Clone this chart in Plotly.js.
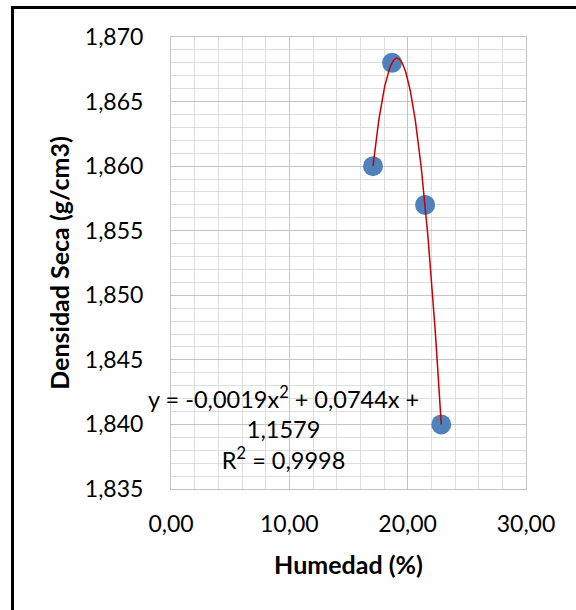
<!DOCTYPE html>
<html>
<head>
<meta charset="utf-8">
<script src="https://cdn.plot.ly/plotly-3.0.1.min.js"></script>
<style>
  html, body { margin: 0; padding: 0; background: #fff; }
  #frame { position: absolute; left: 11px; top: 6px; width: 620px; height: 660px; border: 3px solid #000; box-sizing: border-box; }
  #chart { position: absolute; left: 0; top: 0; width: 576px; height: 610px; }
</style>
</head>
<body>
<div id="frame"></div>
<div id="chart"></div>
<script>
// Data
const humedad = [17.07, 18.68, 21.47, 22.84];
const densidad = [1.860, 1.868, 1.857, 1.840];
const xTickVals = [0, 10, 20, 30];
const yTickVals = [1.835, 1.840, 1.845, 1.850, 1.855, 1.860, 1.865, 1.870];
const eqLabel = "y = -0,0019x<sup>2</sup> + 0,0744x +<br>1,1579<br>R<sup>2</sup> = 0,9998";

// Least-squares quadratic trendline from the data
function quadFit(xs, ys) {
  let S = [0,0,0,0,0], T = [0,0,0];
  for (let i = 0; i < xs.length; i++) {
    let p = 1;
    for (let k = 0; k < 5; k++) { S[k] += p; if (k < 3) T[k] += p * ys[i]; p *= xs[i]; }
  }
  const A = [[S[0],S[1],S[2],T[0]],[S[1],S[2],S[3],T[1]],[S[2],S[3],S[4],T[2]]];
  for (let c = 0; c < 3; c++) {
    for (let r = c + 1; r < 3; r++) {
      const f = A[r][c] / A[c][c];
      for (let k = c; k < 4; k++) A[r][k] -= f * A[c][k];
    }
  }
  const sol = [0,0,0];
  for (let r = 2; r >= 0; r--) {
    let s = A[r][3];
    for (let k = r + 1; k < 3; k++) s -= A[r][k] * sol[k];
    sol[r] = s / A[r][r];
  }
  return sol; // c0, c1, c2
}
const coef = quadFit(humedad, densidad);
const xmin = Math.min(...humedad), xmax = Math.max(...humedad);
const tx = [], ty = [];
for (let i = 0; i <= 120; i++) {
  const x = xmin + (xmax - xmin) * i / 120;
  tx.push(x); ty.push(coef[0] + coef[1] * x + coef[2] * x * x);
}

const font = "Lato, 'Open Sans', sans-serif";
const traces = [
  { x: humedad, y: densidad, type: 'scatter', mode: 'markers',
    marker: { color: '#4F81BD', size: 20 }, hoverinfo: 'x+y' },
  { x: tx, y: ty, type: 'scatter', mode: 'lines',
    line: { color: '#C80000', width: 1.5 }, hoverinfo: 'skip' }
];

const layout = {
  width: 576, height: 610,
  paper_bgcolor: 'rgba(0,0,0,0)', plot_bgcolor: '#fff',
  margin: { l: 171, r: 50, t: 37, b: 121 },
  showlegend: false,
  separators: ',.',
  font: { family: font, color: '#000', size: 23 },
  xaxis: {
    range: [0, 30], tickvals: xTickVals, tickformat: '.2f',
    showgrid: true, gridcolor: '#c4c4c4', gridwidth: 1,
    minor: { dtick: 2, showgrid: true, gridcolor: '#dedede', gridwidth: 1 },
    showline: true, linecolor: '#c4c4c4', linewidth: 1, mirror: true,
    zeroline: false, ticks: '', ticklabelstandoff: 14,
    tickfont: { family: font, size: 23, color: '#000' },
    title: { text: 'Humedad (%)', font: { family: font, size: 25, color: '#000', weight: 'bold' }, standoff: 20 }
  },
  yaxis: {
    range: [1.835, 1.870], tickvals: yTickVals, tickformat: '.3f',
    showgrid: true, gridcolor: '#c4c4c4', gridwidth: 1,
    minor: { dtick: 0.001, showgrid: true, gridcolor: '#dedede', gridwidth: 1 },
    showline: true, linecolor: '#c4c4c4', linewidth: 1, mirror: true,
    zeroline: false, ticks: '', ticklabelstandoff: 22,
    tickfont: { family: font, size: 23, color: '#000' },
    title: { text: 'Densidad Seca (g/cm3)', font: { family: font, size: 25, color: '#000', weight: 'bold' }, standoff: 8 }
  },
  annotations: [{
    text: eqLabel, xref: 'paper', yref: 'paper',
    x: (283 - 171) / 355, y: 1 - (428 - 37) / 452, xanchor: 'center', yanchor: 'middle',
    showarrow: false, align: 'center',
    font: { family: font, size: 23.5, color: '#000' }
  }]
};

Plotly.newPlot('chart', traces, layout, { displayModeBar: false, staticPlot: true });
</script>
</body>
</html>
